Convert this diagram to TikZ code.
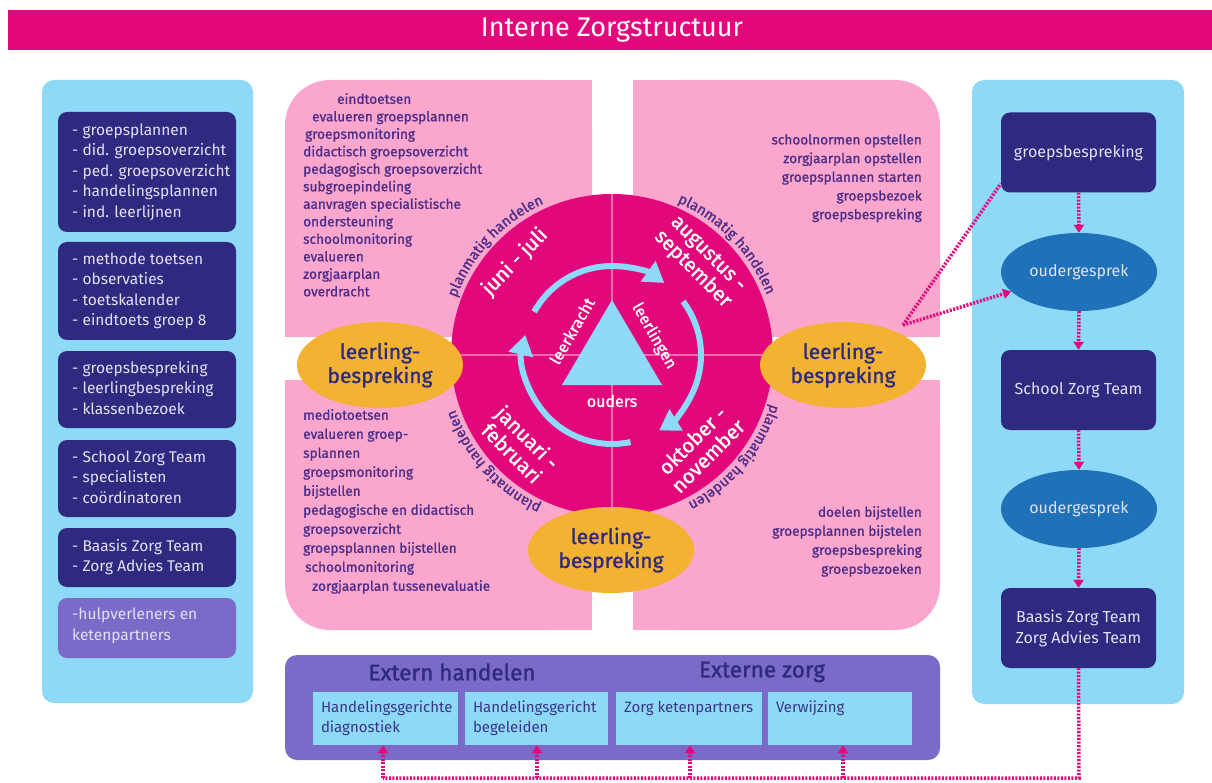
\documentclass[tikz,border=0pt]{standalone}
\usepackage{fontspec}
\setmainfont{Fira Sans}
\newfontfamily\medf{Fira Sans}[FakeBold=1.2]
\usetikzlibrary{arrows.meta,shapes.geometric,decorations.text,calc}
\definecolor{magentaA}{HTML}{E2087C}
\definecolor{pinkq}{HTML}{FAA6CD}
\definecolor{lblue}{HTML}{8ED8F8}
\definecolor{navy}{HTML}{2D2A7F}
\definecolor{purp}{HTML}{7B6AC8}
\definecolor{orng}{HTML}{F4B232}
\definecolor{mblue}{HTML}{1F72B8}
\definecolor{txtp}{HTML}{4C2E88}
\definecolor{crossp}{HTML}{F06BAD}
\definecolor{subtxt}{HTML}{3A3585}
\definecolor{lavtxt}{HTML}{E4E0F6}
\begin{document}
\begin{tikzpicture}[x=1pt,y=1pt,
  navybox/.style={fill=navy, rounded corners=9pt, minimum width=178pt, inner sep=0pt},
  ltext/.style={text=lavtxt, align=left, anchor=west, inner sep=0pt, font=\fontsize{15.5}{20.5}\selectfont},
  qtext/.style={text=txtp, inner sep=0pt, font=\medf\fontsize{13.6}{17.5}\selectfont},
  month/.style={text=white, align=center, font=\medf\fontsize{20.5}{22}\selectfont, inner sep=0pt},
  tri/.style={text=white, font=\medf\fontsize{16}{16}\selectfont, inner sep=0pt},
  lbell/.style={ellipse, fill=orng, minimum width=166pt, minimum height=86pt, inner sep=0pt, align=center, text=navy, font=\medf\fontsize{21}{24}\selectfont},
  rbox/.style={fill=navy, rounded corners=9pt, minimum width=155pt, minimum height=80pt, text=lavtxt, align=center, font=\fontsize{16}{21}\selectfont, inner sep=0pt},
  rell/.style={ellipse, fill=mblue, minimum width=156pt, minimum height=78pt, text=lavtxt, font=\fontsize{16}{20}\selectfont, inner sep=0pt},
  subbox/.style={fill=lblue, minimum height=53pt, inner sep=0pt},
  subtext/.style={text=subtxt, align=left, anchor=north west, inner sep=0pt, font=\fontsize{15}{20}\selectfont},
  hdr/.style={text=navy, font=\medf\fontsize{22.5}{22.5}\selectfont},
  dotline/.style={draw=magentaA, line width=3.5pt, dash pattern=on 2pt off 1.5pt},
  dotarrow/.style={dotline, -{Triangle[width=10pt,length=8pt]}},
  circarrow/.style={draw=lblue, line width=6pt, -{Triangle[width=24pt,length=20pt]}},
  planm/.style={decorate, decoration={text along path, text align=center,
     text={|\medf\fontsize{14.5}{14.5}\selectfont\color{txtp}|planmatig handelen}}}
]
\useasboundingbox (0,0) rectangle (1212,-783);
\fill[white] (0,0) rectangle (1212,-783);
% title
\fill[magentaA] (8,-10) rectangle (1212,-50);
\node[text=white, font=\fontsize{27}{27}\selectfont] (title) at (612,-30) {Interne Zorgstructuur};

% left panel
\fill[lblue, rounded corners=12pt] (42,-80) rectangle (253,-703);
\node[navybox, minimum height=120pt] (L1) at (147,-172) {};
\node[navybox, minimum height=98pt] (L2) at (147,-291) {};
\node[navybox, minimum height=77pt] (L3) at (147,-389.5) {};
\node[navybox, minimum height=77pt] (L4) at (147,-478.5) {};
\node[navybox, minimum height=59pt] (L5) at (147,-557.5) {};
\node[navybox, fill=purp, minimum height=60pt] (L6) at (147,-628) {};
\node[ltext] (L1t) at (72,-172) {- groepsplannen\\- did. groepsoverzicht\\- ped. groepsoverzicht\\- handelingsplannen\\- ind. leerlijnen};
\node[ltext] (L2t) at (72,-291) {- methode toetsen\\- observaties\\- toetskalender\\- eindtoets groep 8};
\node[ltext] (L3t) at (72,-388) {- groepsbespreking\\- leerlingbespreking\\- klassenbezoek};
\node[ltext] (L4t) at (72,-477) {- School Zorg Team\\- specialisten\\- coördinatoren};
\node[ltext] (L5t) at (72,-557) {- Baasis Zorg Team\\- Zorg Advies Team};
\node[ltext] (L6t) at (72,-626) {-hulpverleners en\\ketenpartners};

% pink quadrants
\fill[pinkq, rounded corners=45pt] (285,-80) rectangle (592,-337);
\fill[pinkq] (400,-80) rectangle (592,-337);
\fill[pinkq] (285,-200) rectangle (592,-337);
\fill[pinkq, rounded corners=45pt] (633,-80) rectangle (940,-337);
\fill[pinkq] (633,-80) rectangle (820,-337);
\fill[pinkq] (633,-200) rectangle (940,-337);
\fill[pinkq, rounded corners=45pt] (285,-380) rectangle (592,-630);
\fill[pinkq] (400,-380) rectangle (592,-630);
\fill[pinkq] (285,-380) rectangle (592,-500);
\fill[pinkq, rounded corners=45pt] (633,-380) rectangle (940,-630);
\fill[pinkq] (633,-380) rectangle (820,-630);
\fill[pinkq] (633,-380) rectangle (940,-500);

% quadrant texts
\node[qtext, align=left, anchor=north west] (qTL) at (303,-93) {\hspace*{34pt}eindtoetsen\\\hspace*{9pt}evalueren groepsplannen\\\hspace*{2pt}groepsmonitoring\\didactisch groepsoverzicht\\pedagogisch groepsoverzicht\\subgroepindeling\\aanvragen specialistische\\ondersteuning\\schoolmonitoring\\evalueren\\zorgjaarplan\\overdracht};
\node[qtext, align=right, anchor=north east, font=\medf\fontsize{13.6}{18.7}\selectfont] (qTR) at (922,-134) {schoolnormen opstellen\\zorgjaarplan opstellen\\groepsplannen starten\\groepsbezoek\\groepsbespreking};
\node[qtext, align=left, anchor=north west, font=\medf\fontsize{13.6}{19}\selectfont] (qBL) at (303,-409) {mediotoetsen\\evalueren groep-\\splannen\\groepsmonitoring\\bijstellen\\pedagogische en didactisch\\groepsoverzicht\\groepsplannen bijstellen\\\hspace*{2pt}schoolmonitoring\\\hspace*{9pt}zorgjaarplan tussenevaluatie};
\node[qtext, align=right, anchor=north east, font=\medf\fontsize{13.6}{19}\selectfont] (qBR) at (922,-506) {doelen bijstellen\\groepsplannen bijstelen\\groepsbespreking\\groepsbezoeken};

% circle
\coordinate (C) at (612,-355);
\fill[magentaA] (C) circle[radius=161];
\draw[crossp, line width=2.5pt] ($(C)+(0,161)$) -- ($(C)+(0,-161)$);
\draw[crossp, line width=2.5pt] ($(C)+(-161,0)$) -- ($(C)+(161,0)$);

% planmatig handelen
\path[planm] ($(C)+(164:166)$) arc[start angle=164, end angle=110, radius=166];
\path[planm] ($(C)+(71:166)$) arc[start angle=71, end angle=17, radius=166];
\path[planm] ($(C)+(-13:166)$) arc[start angle=-13, end angle=-67, radius=166];
\path[planm] ($(C)+(-110:166)$) arc[start angle=-110, end angle=-166, radius=166];

% months
\node[month, rotate=46] (jun) at (515,-262) {juni - juli};
\node[month, rotate=-45] (aug) at (700,-262) {augustus -\\september};
\node[month, rotate=-45] (jan) at (520,-445) {januari -\\februari};
\node[month, rotate=45] (okt) at (700,-448) {oktober -\\november};

% triangle and cycle
\fill[lblue] (612,-300) -- (562,-385) -- (662,-385) -- cycle;
\node[tri, rotate=60] (lk) at (572,-331) {leerkracht};
\node[tri, rotate=-60] (ll) at (654,-336) {leerlingen};
\node[tri] (ou) at (612,-401) {ouders};
\draw[circarrow] ($(C)+(151:89)$) arc[start angle=151, end angle=54, radius=89];
\draw[circarrow] ($(C)+(37:89)$) arc[start angle=37, end angle=-58, radius=89];
\draw[circarrow] ($(C)+(-78:89)$) arc[start angle=-78, end angle=-193, radius=89];

% leerling-bespreking ellipses
\node[lbell] (lbL) at (380,-365) {leerling-\\bespreking};
\node[lbell] (lbR) at (843,-365) {leerling-\\bespreking};
\node[lbell] (lbB) at (611,-550) {leerling-\\bespreking};

% right panel
\fill[lblue, rounded corners=12pt] (972,-80) rectangle (1184,-704);
\node[rbox] (rb1) at (1078.5,-152.5) {groepsbespreking};
\node[rell] (e1) at (1079,-272) {oudergesprek};
\node[rbox] (rb2) at (1078.5,-390) {School Zorg Team};
\node[rell] (e2) at (1079,-509) {oudergesprek};
\node[rbox] (rb3) at (1078.5,-628) {Baasis Zorg Team\\Zorg Advies Team};
\draw[dotarrow] (rb1.south) -- (e1.north);
\draw[dotarrow] (e1.south) -- (rb2.north);
\draw[dotarrow] (rb2.south) -- (e2.north);
\draw[dotarrow] (e2.south) -- (rb3.north);
\coordinate (lbRc) at (903,-325);
\draw[dotline] (lbRc) -- ([yshift=9pt]rb1.south west);
\draw[dotarrow] (lbRc) -- (e1.196);

% bottom box
\fill[purp, rounded corners=12pt] (285,-655) rectangle (940,-760);
\node[hdr] (exh) at (452,-672) {Extern handelen};
\node[hdr] (exz) at (762,-672) {Externe zorg};
\node[subbox, minimum width=145pt] (hb1) at (385.5,-718.5) {};
\node[subbox, minimum width=143pt] (hb2) at (536.5,-718.5) {};
\node[subbox, minimum width=146pt] (hb3) at (689,-718.5) {};
\node[subbox, minimum width=144pt] (hb4) at (840,-718.5) {};
\node[subtext] (hb1t) at ([xshift=8pt,yshift=-9pt]hb1.north west) {Handelingsgerichte\\diagnostiek};
\node[subtext] (hb2t) at ([xshift=8pt,yshift=-9pt]hb2.north west) {Handelingsgericht\\begeleiden};
\node[subtext] (hb3t) at ([xshift=8pt,yshift=-9pt]hb3.north west) {Zorg ketenpartners};
\node[subtext] (hb4t) at ([xshift=8pt,yshift=-9pt]hb4.north west) {Verwijzing};

% bottom bus
\coordinate (busR) at (1079,-778);
\coordinate (bus1) at (383,-778);
\coordinate (bus2) at (537,-778);
\coordinate (bus3) at (690,-778);
\coordinate (bus4) at (843,-778);
\draw[dotline] (rb3.south) -- (busR) -- (bus1);
\draw[dotarrow] (bus1) -- (bus1 |- hb1.south);
\draw[dotarrow] (bus2) -- (bus2 |- hb2.south);
\draw[dotarrow] (bus3) -- (bus3 |- hb3.south);
\draw[dotarrow] (bus4) -- (bus4 |- hb4.south);
\end{tikzpicture}
\end{document}
